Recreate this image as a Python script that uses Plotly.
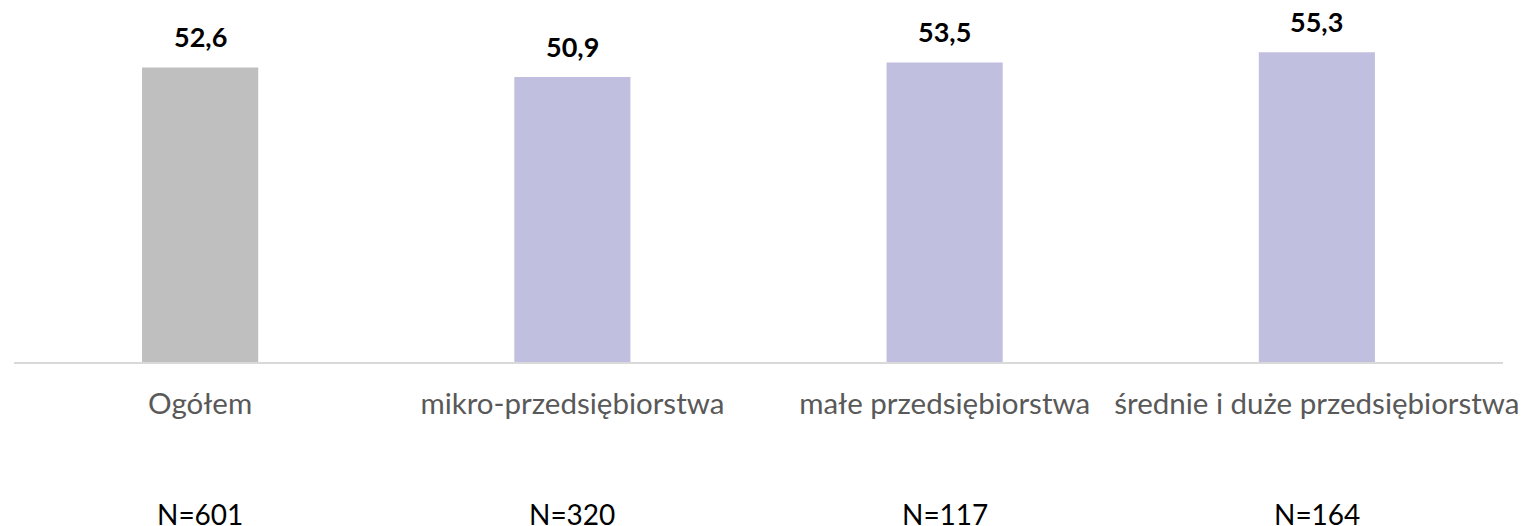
import plotly.graph_objects as go

categories = ["Ogółem", "mikro-przedsiębiorstwa", "małe przedsiębiorstwa", "średnie i duże przedsiębiorstwa"]
values = [52.6, 50.9, 53.5, 55.3]
n_labels = ["N=601", "N=320", "N=117", "N=164"]
colors = ["#BFBFBF", "#C1BFDF", "#C1BFDF", "#C1BFDF"]

fig = go.Figure()
fig.add_trace(go.Bar(
    x=categories, y=values,
    marker=dict(color=colors, line=dict(width=0)),
    width=0.312,
    hoverinfo="skip",
))

for c, v in zip(categories, values):
    fig.add_annotation(x=c, y=v, xref="x", yref="y", yanchor="bottom", yshift=12,
                       text=f"<b>{v:.1f}</b>".replace(".", ","), showarrow=False,
                       font=dict(family="Lato", size=27, color="black"))

for c, n in zip(categories, n_labels):
    fig.add_annotation(x=c, y=0, xref="x", yref="paper", yanchor="middle", yshift=-152,
                       text=n, showarrow=False,
                       font=dict(family="Lato", size=28, color="black"))

fig.update_layout(
    width=1527, height=526,
    margin=dict(l=6, r=32, t=18, b=172, autoexpand=False),
    plot_bgcolor="white", paper_bgcolor="white",
    showlegend=False,
    xaxis=dict(showline=True, linecolor="#D9D9D9", linewidth=2, automargin=False,
               ticks="", tickfont=dict(family="Lato", size=29.5, color="#595959"),
               ticklabelstandoff=15),
    yaxis=dict(range=[0, 60], visible=False, showgrid=False, zeroline=False, automargin=False),
)

fig.write_html("out.html")
